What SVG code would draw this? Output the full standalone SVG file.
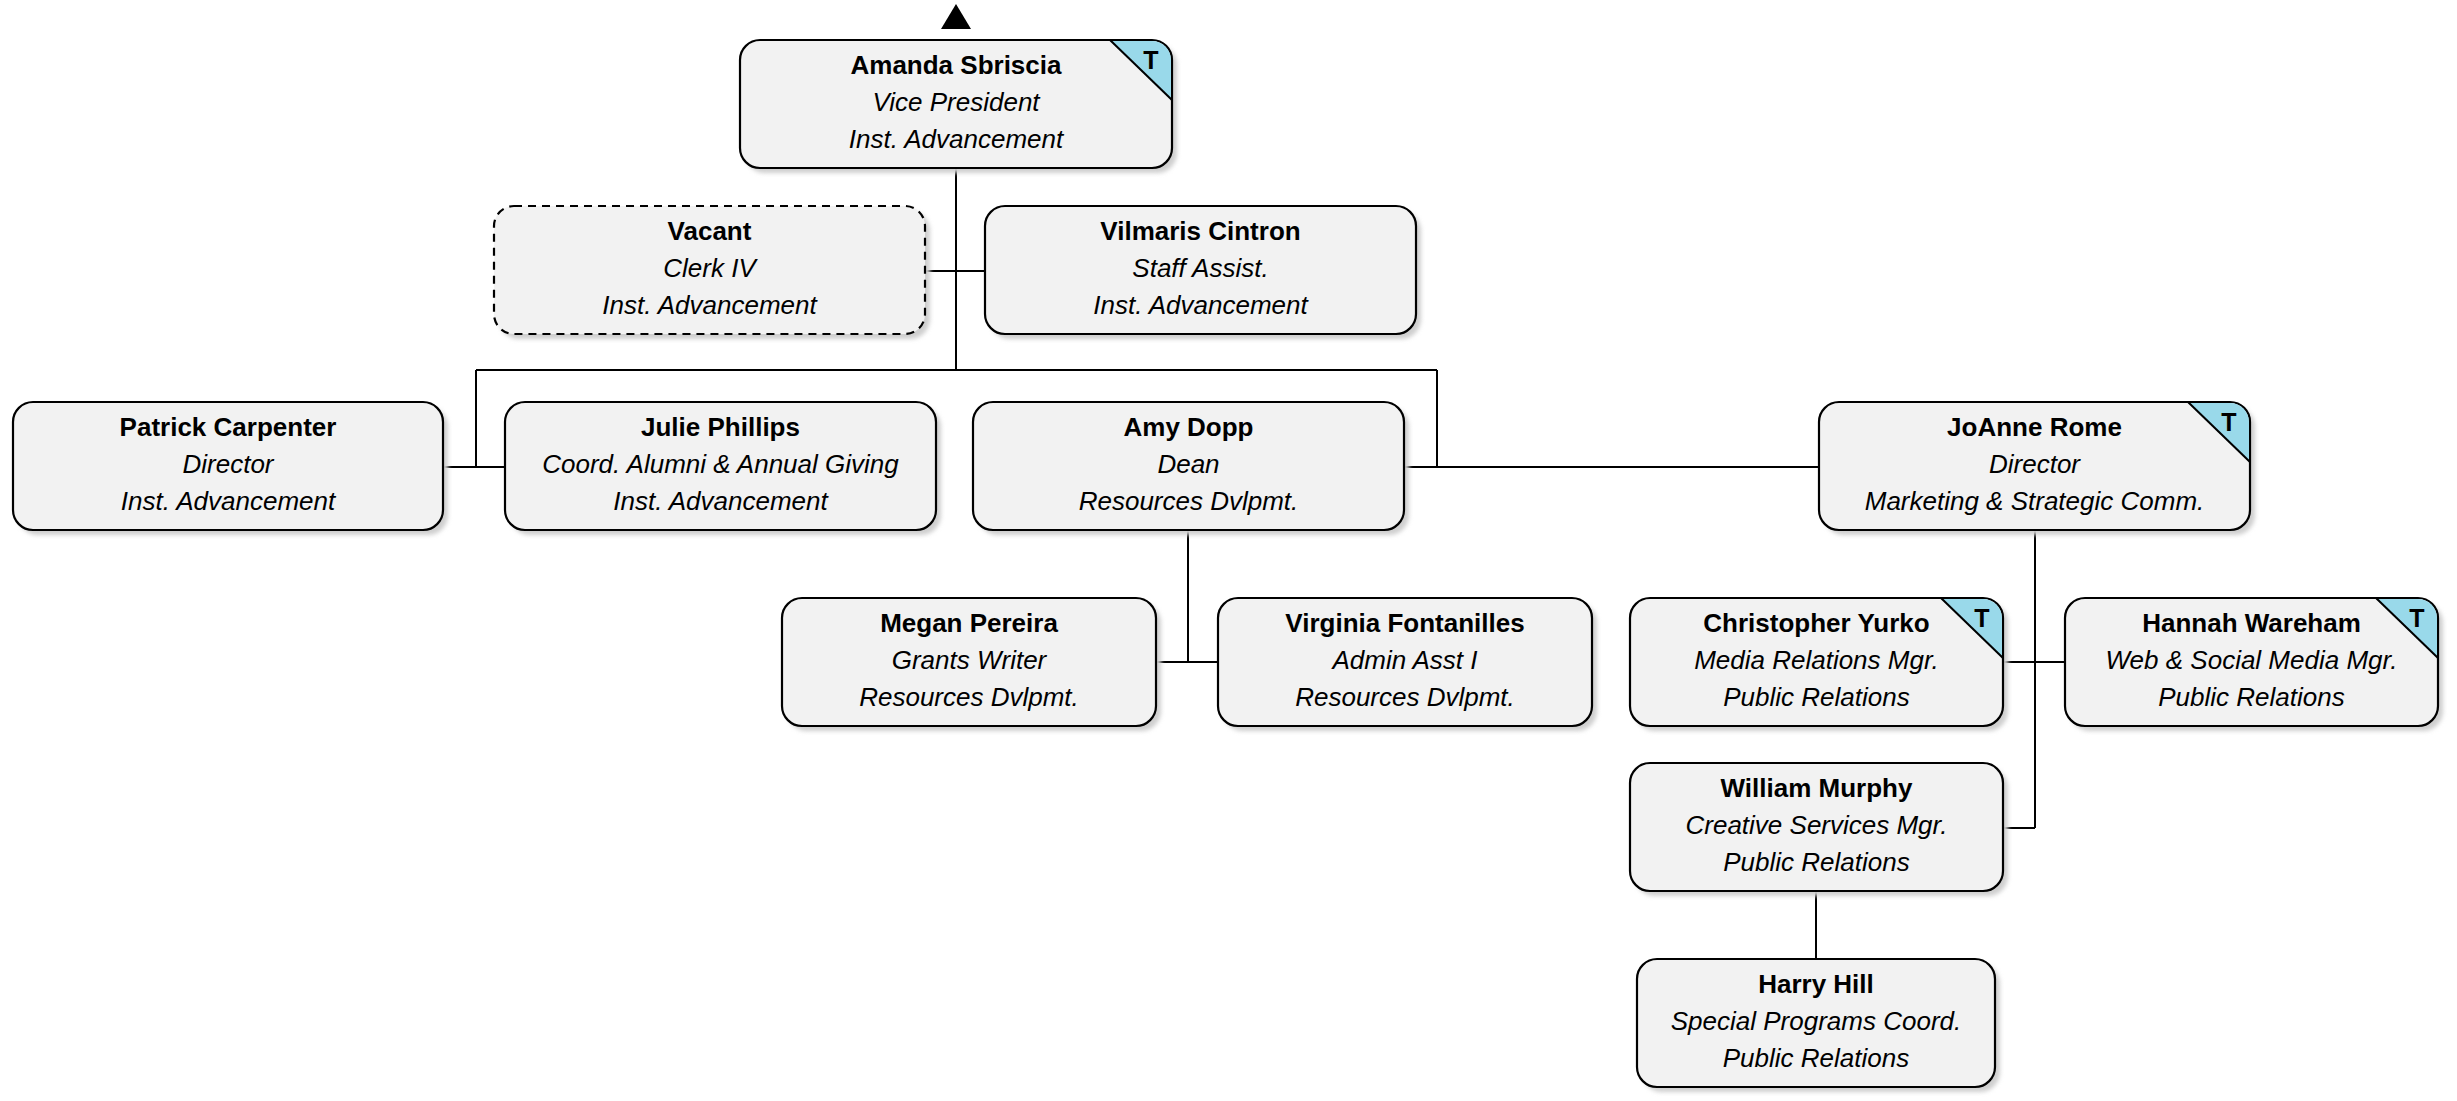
<svg xmlns="http://www.w3.org/2000/svg" width="2457" height="1101" viewBox="0 0 2457 1101">
  <style>
    .bg { fill: #ffffff; }
    .shadow { fill: #cfcfcf; filter: url(#soft); }
    .box { fill: #f2f2f2; stroke: #000; stroke-width: 2.2; }
    .dashed { stroke-dasharray: 8 6; }
    .tag { fill: #99d9ea; }
    .tagline { stroke: #000; stroke-width: 2; fill: none; }
    .wire { stroke: #000; stroke-width: 2; fill: none; }
    text { font-family: "Liberation Sans", Arial, sans-serif; fill: #000; text-anchor: middle; }
    .name { font-size: 26px; font-weight: bold; }
    .role { font-size: 26px; font-style: italic; }
    .t { font-size: 25px; font-weight: bold; }
  </style>
  <defs>
    <filter id="soft" x="-5%" y="-5%" width="110%" height="110%">
      <feGaussianBlur stdDeviation="2"/>
    </filter>
  </defs>

  <rect class="bg" x="0" y="0" width="2457" height="1101"/>

  <!-- up-level marker above the top node -->
  <polygon points="956,4 941,29 971,29" fill="#000"/>

  <!-- reporting lines -->
  <g id="connectors">
    <path class="wire" d="M956 168 V370"/>
    <path class="wire" d="M476 370 H1437"/>
    <path class="wire" d="M476 370 V467"/>
    <path class="wire" d="M443 467 H505"/>
    <path class="wire" d="M1437 370 V467"/>
    <path class="wire" d="M1404 467 H1819"/>
    <path class="wire" d="M925 271 H985"/>
    <path class="wire" d="M1188 530 V662"/>
    <path class="wire" d="M1156 662 H1218"/>
    <path class="wire" d="M2035 530 V828"/>
    <path class="wire" d="M2003 662 H2065"/>
    <path class="wire" d="M2003 828 H2035"/>
    <path class="wire" d="M1816 891 V959"/>
  </g>

  <g id="amanda-sbriscia" transform="translate(740,40)">
    <rect class="shadow" x="5" y="5" width="432" height="128" rx="20"/>
    <rect class="box" x="0" y="0" width="432" height="128" rx="20"/>
    <path class="tag" d="M370 1 L412 1 A19 19 0 0 1 431 20 L431 60 Z"/>
    <path class="tagline" d="M370 0 L432 60"/>
    <text class="t" x="411" y="29">T</text>
    <text class="name" x="216" y="34">Amanda Sbriscia</text>
    <text class="role" x="216" y="71">Vice President</text>
    <text class="role" x="216" y="108">Inst. Advancement</text>
  </g>

  <g id="vacant" transform="translate(494,206)">
    <rect class="shadow" x="5" y="5" width="431" height="128" rx="20"/>
    <rect class="box dashed" x="0" y="0" width="431" height="128" rx="20"/>
    <text class="name" x="215.5" y="34">Vacant</text>
    <text class="role" x="215.5" y="71">Clerk IV</text>
    <text class="role" x="215.5" y="108">Inst. Advancement</text>
  </g>

  <g id="vilmaris-cintron" transform="translate(985,206)">
    <rect class="shadow" x="5" y="5" width="431" height="128" rx="20"/>
    <rect class="box" x="0" y="0" width="431" height="128" rx="20"/>
    <text class="name" x="215.5" y="34">Vilmaris Cintron</text>
    <text class="role" x="215.5" y="71">Staff Assist.</text>
    <text class="role" x="215.5" y="108">Inst. Advancement</text>
  </g>

  <g id="patrick-carpenter" transform="translate(13,402)">
    <rect class="shadow" x="5" y="5" width="430" height="128" rx="20"/>
    <rect class="box" x="0" y="0" width="430" height="128" rx="20"/>
    <text class="name" x="215" y="34">Patrick Carpenter</text>
    <text class="role" x="215" y="71">Director</text>
    <text class="role" x="215" y="108">Inst. Advancement</text>
  </g>

  <g id="julie-phillips" transform="translate(505,402)">
    <rect class="shadow" x="5" y="5" width="431" height="128" rx="20"/>
    <rect class="box" x="0" y="0" width="431" height="128" rx="20"/>
    <text class="name" x="215.5" y="34">Julie Phillips</text>
    <text class="role" x="215.5" y="71">Coord. Alumni &amp; Annual Giving</text>
    <text class="role" x="215.5" y="108">Inst. Advancement</text>
  </g>

  <g id="amy-dopp" transform="translate(973,402)">
    <rect class="shadow" x="5" y="5" width="431" height="128" rx="20"/>
    <rect class="box" x="0" y="0" width="431" height="128" rx="20"/>
    <text class="name" x="215.5" y="34">Amy Dopp</text>
    <text class="role" x="215.5" y="71">Dean</text>
    <text class="role" x="215.5" y="108">Resources Dvlpmt.</text>
  </g>

  <g id="joanne-rome" transform="translate(1819,402)">
    <rect class="shadow" x="5" y="5" width="431" height="128" rx="20"/>
    <rect class="box" x="0" y="0" width="431" height="128" rx="20"/>
    <path class="tag" d="M369 1 L411 1 A19 19 0 0 1 430 20 L430 60 Z"/>
    <path class="tagline" d="M369 0 L431 60"/>
    <text class="t" x="410" y="29">T</text>
    <text class="name" x="215.5" y="34">JoAnne Rome</text>
    <text class="role" x="215.5" y="71">Director</text>
    <text class="role" x="215.5" y="108">Marketing &amp; Strategic Comm.</text>
  </g>

  <g id="megan-pereira" transform="translate(782,598)">
    <rect class="shadow" x="5" y="5" width="374" height="128" rx="20"/>
    <rect class="box" x="0" y="0" width="374" height="128" rx="20"/>
    <text class="name" x="187" y="34">Megan Pereira</text>
    <text class="role" x="187" y="71">Grants Writer</text>
    <text class="role" x="187" y="108">Resources Dvlpmt.</text>
  </g>

  <g id="virginia-fontanilles" transform="translate(1218,598)">
    <rect class="shadow" x="5" y="5" width="374" height="128" rx="20"/>
    <rect class="box" x="0" y="0" width="374" height="128" rx="20"/>
    <text class="name" x="187" y="34">Virginia Fontanilles</text>
    <text class="role" x="187" y="71">Admin Asst I</text>
    <text class="role" x="187" y="108">Resources Dvlpmt.</text>
  </g>

  <g id="christopher-yurko" transform="translate(1630,598)">
    <rect class="shadow" x="5" y="5" width="373" height="128" rx="20"/>
    <rect class="box" x="0" y="0" width="373" height="128" rx="20"/>
    <path class="tag" d="M311 1 L353 1 A19 19 0 0 1 372 20 L372 60 Z"/>
    <path class="tagline" d="M311 0 L373 60"/>
    <text class="t" x="352" y="29">T</text>
    <text class="name" x="186.5" y="34">Christopher Yurko</text>
    <text class="role" x="186.5" y="71">Media Relations Mgr.</text>
    <text class="role" x="186.5" y="108">Public Relations</text>
  </g>

  <g id="hannah-wareham" transform="translate(2065,598)">
    <rect class="shadow" x="5" y="5" width="373" height="128" rx="20"/>
    <rect class="box" x="0" y="0" width="373" height="128" rx="20"/>
    <path class="tag" d="M311 1 L353 1 A19 19 0 0 1 372 20 L372 60 Z"/>
    <path class="tagline" d="M311 0 L373 60"/>
    <text class="t" x="352" y="29">T</text>
    <text class="name" x="186.5" y="34">Hannah Wareham</text>
    <text class="role" x="186.5" y="71">Web &amp; Social Media Mgr.</text>
    <text class="role" x="186.5" y="108">Public Relations</text>
  </g>

  <g id="william-murphy" transform="translate(1630,763)">
    <rect class="shadow" x="5" y="5" width="373" height="128" rx="20"/>
    <rect class="box" x="0" y="0" width="373" height="128" rx="20"/>
    <text class="name" x="186.5" y="34">William Murphy</text>
    <text class="role" x="186.5" y="71">Creative Services Mgr.</text>
    <text class="role" x="186.5" y="108">Public Relations</text>
  </g>

  <g id="harry-hill" transform="translate(1637,959)">
    <rect class="shadow" x="5" y="5" width="358" height="128" rx="20"/>
    <rect class="box" x="0" y="0" width="358" height="128" rx="20"/>
    <text class="name" x="179" y="34">Harry Hill</text>
    <text class="role" x="179" y="71">Special Programs Coord.</text>
    <text class="role" x="179" y="108">Public Relations</text>
  </g>
</svg>
